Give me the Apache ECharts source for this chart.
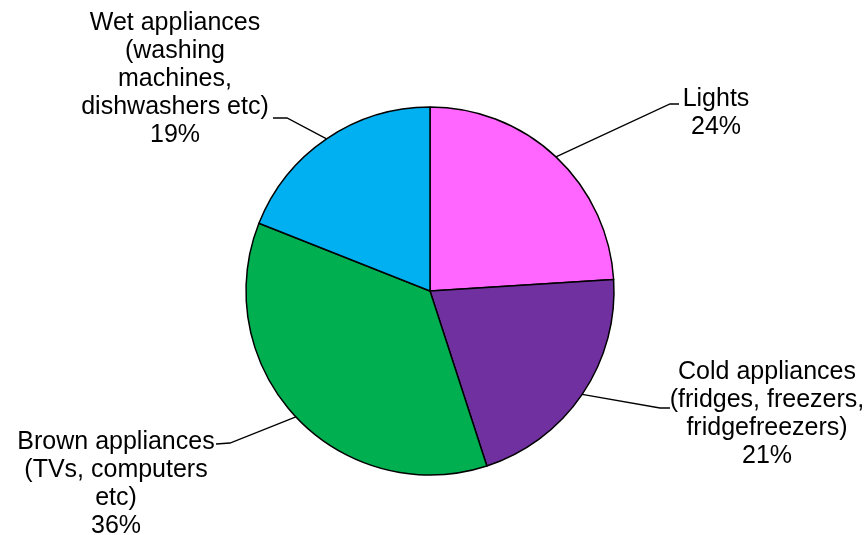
<!DOCTYPE html>
<html>
<head>
<meta charset="utf-8">
<script src="https://cdn.jsdelivr.net/npm/echarts@6/dist/echarts.min.js"></script>
<style>
  html, body { margin: 0; padding: 0; background: #fff; }
  #chart { width: 866px; height: 535px; }
</style>
</head>
<body>
<div id="chart"></div>
<script>
// Household electricity use by appliance group
const categories = [
  'Lights',
  'Cold appliances\n(fridges, freezers,\nfridgefreezers)',
  'Brown appliances\n(TVs, computers\netc)',
  'Wet appliances\n(washing\nmachines,\ndishwashers etc)'
];
const shares = [24, 21, 36, 19];
const colors = ['#FF66FF', '#7030A0', '#00B050', '#00B0F0'];

// Label placement: text block top-centre, leader elbow and leader end
const labelTops = [[716, 85], [767, 358], [116, 428], [175, 9]];
const leaderElbows = [[670, 104], [660, 408], [230, 443], [287, 118]];
const leaderEnds = [[679, 104], [670, 408], [216, 444], [273, 118]];

const chart = echarts.init(document.getElementById('chart'), null, { renderer: 'canvas' });

chart.setOption({
  backgroundColor: '#ffffff',
  animation: false,
  series: [{
    type: 'pie',
    center: [430, 291],
    radius: 184,
    startAngle: 90,
    clockwise: true,
    avoidLabelOverlap: false,
    itemStyle: { borderColor: '#000000', borderWidth: 1.5 },
    label: {
      show: true,
      position: 'outside',
      formatter: p => p.name + '\n' + p.value + '%',
      color: '#000000',
      fontFamily: '"Liberation Sans", Arial, Helvetica, sans-serif',
      fontSize: 25,
      lineHeight: 28,
      align: 'center'
    },
    labelLine: {
      show: true,
      length: 20,
      length2: 10,
      lineStyle: { color: '#000000', width: 1.3 }
    },
    labelLayout: function (params) {
      const i = params.dataIndex;
      const pts = params.labelLinePoints;
      const start = pts && pts[0] ? [pts[0][0], pts[0][1]] : leaderElbows[i];
      return {
        x: labelTops[i][0],
        y: labelTops[i][1],
        align: 'center',
        verticalAlign: 'top',
        labelLinePoints: [start, leaderElbows[i], leaderEnds[i]]
      };
    },
    data: categories.map((name, i) => ({
      name: name,
      value: shares[i],
      itemStyle: { color: colors[i] }
    }))
  }]
});
</script>
</body>
</html>
